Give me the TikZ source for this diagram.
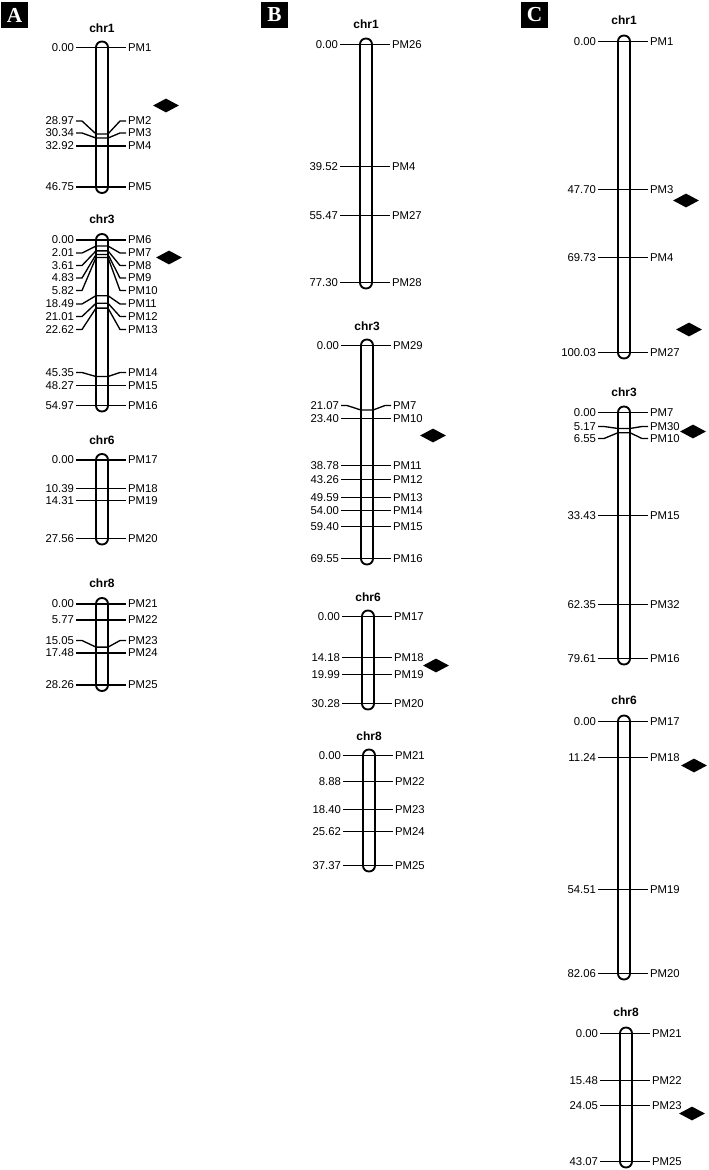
\documentclass[tikz,border=0pt]{standalone}
\usepackage{fontspec}
\setmainfont{Liberation Sans}
\newfontfamily\panelfont{Liberation Serif}
\usetikzlibrary{shapes.geometric}

\tikzset{
  chrbar/.style={draw, line width=1.4pt, fill=white, rounded corners=4.4pt, inner sep=0pt, minimum width=9pt},
  chrname/.style={font=\fontsize{9}{10}\selectfont\bfseries, inner sep=0pt},
  cmlabel/.style={font=\fontsize{8.5}{10}\selectfont, inner sep=0pt, outer sep=1.5pt, anchor=east},
  pmlabel/.style={font=\fontsize{8.5}{10}\selectfont, inner sep=0pt, outer sep=1.5pt, anchor=west},
  maplink/.style={line width=1pt, line join=round},
  qtl/.style={fill=black, diamond, aspect=1.9, inner sep=0pt, minimum width=19.5pt, minimum height=10.5pt},
  panel/.style={fill=black, text=white, font=\fontsize{16}{16}\selectfont\panelfont\bfseries, minimum size=20pt, inner sep=0pt}
}

% #1 name, #2 bar x, #3 first y, #4 last y, #5 largest cM, #6 title y, #7 title, #8 rows (label y/cM/marker)
\newcommand{\chrmap}[8]{
  \pgfmathsetmacro{\barmid}{(#3+#4)/2}
  \pgfmathsetmacro{\barlen}{(#4-#3+12)*0.75}
  \node[chrname] (#1-title) at (#2,#6) {#7};
  \node[chrbar, minimum height=\barlen pt] (#1-bar) at (#2,\barmid) {};
  \foreach \lby/\lbcm/\lbpm in {#8} {
    % lines that are nearly level are drawn level
    \pgfmathsetmacro{\lbbar}{abs(#3+\lbcm/#5*(#4-#3)-\lby)<1.6 ? \lby : #3+\lbcm/#5*(#4-#3)}
    \node[cmlabel] (#1-\lbpm-cm) at (#2-26,\lby) {\lbcm};
    \node[pmlabel] (#1-\lbpm) at (#2+24,\lby) {\lbpm};
    \draw[maplink] (#1-\lbpm-cm.east) -- ++(6,0) -- (#2-6,\lbbar) -- (#2+6,\lbbar) -- (#2+18,\lby) -- (#1-\lbpm.west);
  }
}

\begin{document}
\begin{tikzpicture}[x=0.75pt, y=-0.75pt]
\useasboundingbox (0,-0.5) rectangle (708,1169.5);

% Panel A
\node[panel] (panelA) at (14.5,14.5) {A};
\chrmap{Achr1}{102}{47}{186.5}{46.75}{28}{chr1}{47/0.00/PM1, 120.5/28.97/PM2, 132.5/30.34/PM3, 145.5/32.92/PM4, 186.5/46.75/PM5}
\chrmap{Achr3}{102}{239.5}{405}{54.97}{219}{chr3}{239.5/0.00/PM6, 252.5/2.01/PM7, 265/3.61/PM8, 277.5/4.83/PM9, 290/5.82/PM10, 303.5/18.49/PM11, 316/21.01/PM12, 329/22.62/PM13, 372/45.35/PM14, 385/48.27/PM15, 405/54.97/PM16}
\chrmap{Achr6}{102}{459.5}{538}{27.56}{440}{chr6}{459.5/0.00/PM17, 488/10.39/PM18, 500/14.31/PM19, 538/27.56/PM20}
\chrmap{Achr8}{102}{603.5}{684.5}{28.26}{583}{chr8}{603.5/0.00/PM21, 619.5/5.77/PM22, 640/15.05/PM23, 652.5/17.48/PM24, 684.5/28.26/PM25}
\node[qtl] (qtlA1) at (166,105) {};
\node[qtl] (qtlA2) at (169,257) {};

% Panel B
\node[panel] (panelB) at (274.5,14.5) {B};
\chrmap{Bchr1}{366}{44}{282}{77.30}{24}{chr1}{44/0.00/PM26, 166/39.52/PM4, 215/55.47/PM27, 282/77.30/PM28}
\chrmap{Bchr3}{367}{345}{558}{69.55}{326}{chr3}{345/0.00/PM29, 405/21.07/PM7, 418/23.40/PM10, 465/38.78/PM11, 479/43.26/PM12, 497/49.59/PM13, 510/54.00/PM14, 526/59.40/PM15, 558/69.55/PM16}
\chrmap{Bchr6}{368}{616}{703}{30.28}{597}{chr6}{616/0.00/PM17, 657/14.18/PM18, 674/19.99/PM19, 703/30.28/PM20}
\chrmap{Bchr8}{369}{755}{865}{37.37}{736}{chr8}{755/0.00/PM21, 781/8.88/PM22, 809/18.40/PM23, 831/25.62/PM24, 865/37.37/PM25}
\node[qtl] (qtlB1) at (433,435) {};
\node[qtl] (qtlB2) at (436,665) {};

% Panel C
\node[panel] (panelC) at (534.5,14.5) {C};
\chrmap{Cchr1}{624}{41}{352}{100.03}{20}{chr1}{41/0.00/PM1, 189/47.70/PM3, 257/69.73/PM4, 352/100.03/PM27}
\chrmap{Cchr3}{624}{412}{658}{79.61}{392}{chr3}{412/0.00/PM7, 426/5.17/PM30, 438/6.55/PM10, 515/33.43/PM15, 604/62.35/PM32, 658/79.61/PM16}
\chrmap{Cchr6}{624}{721}{973}{82.06}{700}{chr6}{721/0.00/PM17, 757/11.24/PM18, 889/54.51/PM19, 973/82.06/PM20}
\chrmap{Cchr8}{626}{1033}{1161}{43.07}{1012}{chr8}{1033/0.00/PM21, 1080/15.48/PM22, 1105/24.05/PM23, 1161/43.07/PM25}
\node[qtl] (qtlC1) at (686,200) {};
\node[qtl] (qtlC2) at (689,329) {};
\node[qtl] (qtlC3) at (693,431) {};
\node[qtl] (qtlC4) at (694,765) {};
\node[qtl] (qtlC5) at (692,1113) {};

\end{tikzpicture}
\end{document}
